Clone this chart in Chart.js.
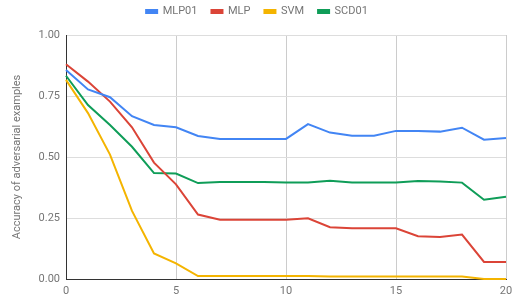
<!DOCTYPE html>
<html>
<head>
<meta charset="utf-8">
<script src="https://cdn.jsdelivr.net/npm/chart.js@4"></script>
<style>
  html, body { margin: 0; padding: 0; background: #fff; }
  #wrap { width: 521px; height: 303px; }
</style>
</head>
<body>
<div id="wrap"><canvas id="chart"></canvas></div>
<script>
const xValues = [0, 1, 2, 3, 4, 5, 6, 7, 8, 9, 10, 11, 12, 13, 14, 15, 16, 17, 18, 19, 20];
const seriesNames = ["MLP01", "MLP", "SVM", "SCD01"];
const mlp01 = [0.857, 0.777, 0.745, 0.667, 0.631, 0.622, 0.586, 0.574, 0.574, 0.574, 0.574, 0.635, 0.6, 0.587, 0.587, 0.607, 0.607, 0.604, 0.62, 0.571, 0.578];
const mlp = [0.88, 0.809, 0.727, 0.622, 0.477, 0.388, 0.264, 0.243, 0.243, 0.243, 0.243, 0.249, 0.212, 0.208, 0.208, 0.208, 0.175, 0.172, 0.182, 0.07, 0.07];
const svm = [0.816, 0.68, 0.51, 0.279, 0.105, 0.064, 0.012, 0.012, 0.012, 0.012, 0.012, 0.012, 0.01, 0.01, 0.01, 0.01, 0.01, 0.01, 0.01, 0, 0];
const scd01 = [0.833, 0.713, 0.631, 0.542, 0.434, 0.432, 0.393, 0.398, 0.398, 0.398, 0.396, 0.396, 0.403, 0.396, 0.395, 0.396, 0.402, 0.4, 0.395, 0.325, 0.337];
const colors = ["#4285f4", "#db4437", "#f4b400", "#0f9d58"];

const toPoints = (values) => values.map((v, i) => ({ x: xValues[i], y: v }));

// legend needs a bit more room under it than chart.js gives,
// and sits a few px right of where chart.js centres it
const legendSpacer = {
  id: "legendSpacer",
  beforeLayout(chart) {
    const legend = chart.legend;
    if (legend && !legend._spaced) {
      const fit = legend.fit;
      legend.fit = function () {
        fit.call(this);
        this.height += 8;
      };
      const draw = legend.draw;
      legend.draw = function () {
        this.ctx.save();
        this.ctx.translate(4, 0);
        draw.call(this);
        this.ctx.restore();
      };
      legend._spaced = true;
    }
  }
};

const ctx = document.getElementById("chart").getContext("2d");
new Chart(ctx, {
  type: "line",
  data: {
    datasets: [mlp01, mlp, svm, scd01].map((values, i) => ({
      label: seriesNames[i],
      data: toPoints(values),
      borderColor: colors[i],
      backgroundColor: colors[i],
      borderWidth: 2,
      pointRadius: 0,
      tension: 0,
      clip: 4,
    })),
  },
  options: {
    responsive: true,
    maintainAspectRatio: false,
    animation: false,
    layout: { padding: { top: -8, right: 15, bottom: 0, left: 0 } },
    plugins: {
      legend: {
        position: "top",
        labels: {
          boxWidth: 11,
          boxHeight: 3,
          padding: 14,
          color: "#757575",
          font: { family: "Roboto", size: 11 },
        },
      },
      tooltip: { enabled: false },
    },
    scales: {
      x: {
        type: "linear",
        min: 0,
        max: 20,
        ticks: {
          stepSize: 5,
          padding: 6,
          color: "#757575",
          font: { family: "Roboto", size: 11 },
        },
        grid: { color: "#cccccc", drawTicks: false },
        border: { color: "#333333" },
        afterFit: (scale) => { scale.height = 24; },
      },
      y: {
        min: 0,
        max: 1,
        ticks: {
          stepSize: 0.25,
          padding: 6,
          color: "#757575",
          font: { family: "Roboto", size: 11 },
          callback: (value) => value.toFixed(2),
        },
        grid: { color: "#dddddd", drawTicks: false },
        border: { color: "#333333" },
        title: {
          display: true,
          text: "Accuracy of adversarial examples",
          color: "#757575",
          font: { family: "Roboto", size: 11 },
          padding: { top: 11, bottom: 0 },
        },
        afterFit: (scale) => { scale.width = 66; },
      },
    },
  },
  plugins: [legendSpacer],
});
</script>
</body>
</html>
